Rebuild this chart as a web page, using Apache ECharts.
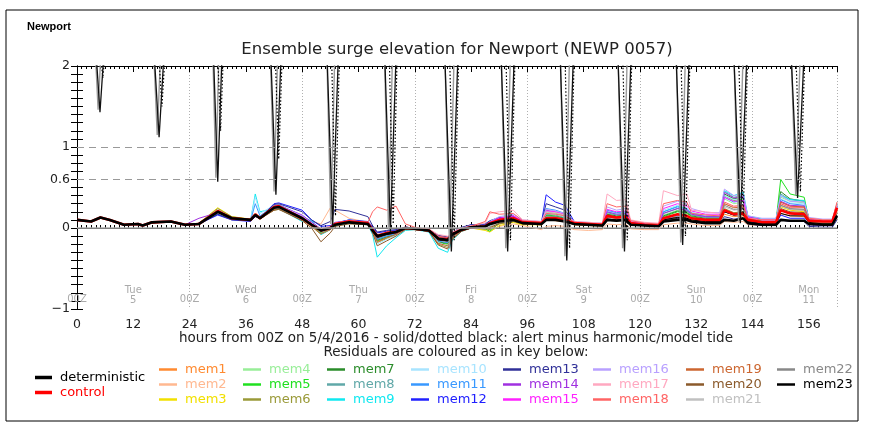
<!DOCTYPE html>
<html><head><meta charset="utf-8">
<script src="https://cdn.jsdelivr.net/npm/echarts/dist/echarts.min.js"></script>
<style>html,body{margin:0;padding:0;background:#fff}#c{width:873px;height:426px}</style>
</head><body><div id="c"></div>
<script>
// ---------- data ----------
const hours = [0,3,5,7,10,13,14,16,20,23,26,30,33,37,38,39,42,43,48,50,52,54,55,58,62,63,64,66,68,70,72,75,77,79,80,82,84,87,88,90,93,95,99,100,102,104,106,109,112,113,115,117,118,121,124,125,128,130,131,134,137,138,140,142,143,146,149,150,152,155,156,159,161,162];

const deterministic = [0.10,0.08,0.13,0.10,0.04,0.05,0.03,0.07,0.08,0.04,0.05,
 0.20,0.12,0.10,0.16,0.12,0.25,0.26,0.12,
 0.04,-0.03,0.00,0.04,0.07,0.05,-0.03,-0.10,-0.07,-0.05,0.00,-0.01,
 -0.03,-0.13,-0.15,-0.08,-0.02,0.01,
 0.02,0.05,0.08,0.10,0.06,0.05,0.10,0.10,0.08,0.05,0.04,
 0.03,0.10,0.09,0.10,0.04,0.03,0.02,
 0.08,0.10,0.10,0.08,0.06,0.06,
 0.10,0.09,0.12,0.06,0.04,0.04,
 0.10,0.09,0.09,0.05,0.04,0.04,0.15];
const control = [0.10,0.08,0.13,0.10,0.04,0.05,0.03,0.07,0.08,0.04,0.05,
 0.21,0.12,0.10,0.17,0.12,0.26,0.27,0.12,
 0.04,-0.03,0.00,0.05,0.08,0.06,-0.02,-0.10,-0.06,-0.05,0.00,-0.01,
 -0.03,-0.13,-0.14,-0.08,-0.02,0.01,
 0.02,0.06,0.10,0.12,0.07,0.06,0.12,0.12,0.10,0.06,0.05,
 0.04,0.15,0.13,0.14,0.06,0.04,0.03,
 0.12,0.17,0.15,0.12,0.10,0.10,
 0.22,0.17,0.18,0.10,0.07,0.07,
 0.22,0.18,0.17,0.09,0.08,0.08,0.25];

const mem1 = [0.10,0.08,0.12,0.10,0.04,0.05,0.03,0.06,0.08,0.04,0.05,
 0.19,0.11,0.09,0.15,0.11,0.23,0.24,0.11,
 0.03,-0.05,-0.01,0.04,0.07,0.05,-0.04,-0.14,-0.10,-0.07,-0.01,-0.01,
 -0.03,-0.16,-0.18,-0.10,-0.03,0.00,
 0.00,-0.02,0.05,0.08,0.05,0.04,0.10,0.09,0.08,0.04,0.04,
 0.03,0.12,0.10,0.11,0.04,0.03,0.02,
 0.09,0.12,0.11,0.09,0.07,0.07,
 0.17,0.14,0.15,0.08,0.05,0.05,
 0.18,0.15,0.14,0.07,0.06,0.06,0.20];
const mem2 = [0.10,0.09,0.12,0.10,0.05,0.05,0.04,0.07,0.08,0.05,0.05,
 0.18,0.12,0.10,0.14,0.12,0.22,0.24,0.14,
 0.08,0.05,0.25,0.22,0.12,0.07,0.00,-0.08,-0.05,-0.04,0.00,-0.01,
 -0.02,-0.10,-0.12,-0.07,-0.02,0.00,
 -0.02,-0.04,0.02,0.05,0.03,-0.02,0.02,0.03,0.02,-0.02,-0.03,
 -0.02,0.05,0.04,0.05,-0.01,-0.02,-0.02,
 0.04,0.06,0.06,0.05,0.03,0.03,
 0.08,0.07,0.08,0.04,0.03,0.03,
 0.10,0.09,0.09,0.04,0.03,0.03,0.12];
const mem3 = [0.10,0.08,0.13,0.10,0.04,0.05,0.03,0.07,0.08,0.04,0.06,
 0.25,0.14,0.11,0.16,0.12,0.25,0.26,0.13,
 0.05,-0.02,0.01,0.05,0.07,0.06,-0.03,-0.12,-0.08,-0.06,0.00,-0.01,
 -0.03,-0.14,-0.16,-0.09,-0.02,0.00,
 -0.03,-0.05,0.03,0.07,0.04,0.04,0.20,0.18,0.15,0.05,0.04,
 0.03,0.10,0.09,0.10,0.04,0.03,0.02,
 0.10,0.13,0.12,0.09,0.07,0.07,
 0.20,0.16,0.17,0.08,0.05,0.05,
 0.26,0.22,0.20,0.07,0.06,0.06,0.22];
const mem4 = [0.10,0.08,0.13,0.10,0.04,0.05,0.03,0.07,0.08,0.04,0.05,
 0.22,0.13,0.10,0.18,0.13,0.27,0.28,0.13,
 0.04,-0.04,0.00,0.05,0.09,0.07,-0.02,-0.14,-0.10,-0.07,0.00,-0.01,
 -0.03,-0.15,-0.17,-0.09,-0.02,0.01,
 0.01,0.03,0.10,0.14,0.08,0.07,0.18,0.17,0.14,0.07,0.06,
 0.05,0.18,0.16,0.17,0.07,0.05,0.04,
 0.16,0.22,0.20,0.16,0.13,0.13,
 0.36,0.30,0.32,0.14,0.10,0.10,
 0.38,0.33,0.31,0.12,0.10,0.10,0.28];
const mem5 = [0.10,0.08,0.13,0.10,0.04,0.05,0.03,0.07,0.08,0.04,0.05,
 0.21,0.12,0.10,0.17,0.12,0.24,0.25,0.11,
 0.03,-0.06,-0.01,0.05,0.08,0.06,-0.03,-0.16,-0.12,-0.08,-0.01,-0.01,
 -0.03,-0.18,-0.20,-0.11,-0.03,0.00,
 -0.01,-0.04,0.06,0.10,0.07,0.06,0.16,0.15,0.12,0.06,0.05,
 0.04,0.16,0.14,0.15,0.06,0.04,0.03,
 0.14,0.20,0.18,0.14,0.11,0.11,
 0.40,0.34,0.36,0.12,0.08,0.08,
 0.60,0.42,0.38,0.11,0.09,0.09,0.30];
const mem6 = [0.10,0.08,0.13,0.10,0.04,0.05,0.03,0.07,0.08,0.04,0.06,
 0.24,0.14,0.10,0.15,0.12,0.22,0.23,0.11,
 0.02,-0.08,-0.02,0.03,0.06,0.05,-0.05,-0.18,-0.13,-0.09,-0.01,-0.02,
 -0.04,-0.20,-0.24,-0.13,-0.04,0.00,
 -0.01,-0.02,0.05,0.08,0.05,0.04,0.11,0.11,0.09,0.04,0.03,
 0.03,0.11,0.10,0.11,0.04,0.03,0.02,
 0.10,0.14,0.13,0.10,0.08,0.08,
 0.24,0.19,0.20,0.09,0.06,0.06,
 0.28,0.23,0.22,0.08,0.06,0.06,0.20];
const mem7 = [0.10,0.08,0.13,0.10,0.04,0.05,0.03,0.07,0.08,0.04,0.05,
 0.20,0.12,0.10,0.16,0.12,0.25,0.26,0.12,
 0.03,-0.05,-0.01,0.04,0.08,0.06,-0.03,-0.15,-0.11,-0.08,-0.01,-0.01,
 -0.03,-0.17,-0.19,-0.10,-0.03,0.00,
 0.00,0.02,0.08,0.11,0.07,0.06,0.15,0.14,0.12,0.06,0.05,
 0.04,0.17,0.15,0.16,0.06,0.04,0.03,
 0.15,0.21,0.19,0.15,0.12,0.12,
 0.42,0.36,0.38,0.13,0.09,0.09,
 0.45,0.36,0.33,0.11,0.09,0.09,0.27];
const mem8 = [0.10,0.08,0.13,0.10,0.04,0.05,0.03,0.07,0.08,0.04,0.05,
 0.19,0.12,0.10,0.17,0.12,0.26,0.27,0.12,
 0.04,-0.04,0.00,0.05,0.08,0.06,-0.03,-0.13,-0.09,-0.07,0.00,-0.01,
 -0.03,-0.16,-0.18,-0.10,-0.03,0.01,
 0.01,0.04,0.09,0.12,0.07,0.06,0.17,0.16,0.13,0.06,0.05,
 0.04,0.19,0.16,0.17,0.06,0.04,0.03,
 0.18,0.24,0.21,0.16,0.13,0.13,
 0.45,0.38,0.40,0.14,0.10,0.10,
 0.42,0.35,0.33,0.12,0.09,0.09,0.28];
const mem9 = [0.10,0.08,0.13,0.10,0.04,0.05,0.03,0.07,0.08,0.04,0.05,
 0.17,0.11,0.10,0.42,0.20,0.24,0.24,0.08,
 0.10,-0.08,-0.02,0.03,0.06,0.04,-0.08,-0.36,-0.22,-0.12,-0.03,-0.02,
 -0.05,-0.25,-0.30,-0.15,-0.04,0.00,
 0.00,0.03,0.10,0.14,0.09,0.07,0.20,0.19,0.16,0.07,0.06,
 0.05,0.20,0.18,0.19,0.07,0.05,0.04,
 0.20,0.27,0.24,0.19,0.15,0.15,
 0.46,0.40,0.44,0.15,0.11,0.11,
 0.40,0.35,0.34,0.12,0.10,0.10,0.30];
const mem10 = [0.10,0.08,0.13,0.10,0.04,0.05,0.03,0.07,0.08,0.04,0.05,
 0.18,0.11,0.10,0.38,0.18,0.28,0.28,0.10,
 0.06,-0.05,-0.01,0.04,0.07,0.05,-0.04,-0.20,-0.14,-0.09,-0.01,-0.01,
 -0.03,-0.18,-0.22,-0.12,-0.03,0.00,
 0.00,0.03,0.09,0.12,0.08,0.06,0.18,0.17,0.14,0.06,0.05,
 0.04,0.21,0.18,0.19,0.07,0.05,0.04,
 0.22,0.28,0.25,0.19,0.15,0.15,
 0.40,0.35,0.37,0.13,0.10,0.10,
 0.36,0.31,0.30,0.11,0.09,0.09,0.26];
const mem11 = [0.10,0.08,0.13,0.10,0.04,0.05,0.03,0.07,0.08,0.04,0.05,
 0.17,0.11,0.09,0.30,0.15,0.27,0.29,0.15,
 0.08,-0.02,0.01,0.06,0.10,0.07,-0.02,-0.14,-0.10,-0.07,0.00,-0.01,
 -0.03,-0.16,-0.18,-0.10,-0.02,0.01,
 0.01,0.04,0.11,0.14,0.09,0.07,0.24,0.22,0.18,0.07,0.06,
 0.05,0.22,0.19,0.20,0.07,0.05,0.04,
 0.20,0.26,0.23,0.18,0.14,0.14,
 0.38,0.32,0.34,0.13,0.10,0.10,
 0.35,0.30,0.28,0.11,0.09,0.09,0.27];
const mem12 = [0.10,0.08,0.13,0.10,0.04,0.05,0.03,0.07,0.08,0.04,0.05,
 0.16,0.10,0.08,0.14,0.12,0.30,0.31,0.22,
 0.10,0.02,0.03,0.06,0.10,0.08,0.02,-0.06,-0.04,-0.03,0.01,0.00,
 -0.02,-0.10,-0.12,-0.06,0.00,0.04,
 0.04,0.08,0.12,0.15,0.08,0.07,0.41,0.32,0.28,0.08,0.06,
 0.05,0.14,0.12,0.13,0.05,0.04,0.03,
 0.11,0.15,0.14,0.11,0.09,0.09,
 0.20,0.16,0.17,0.08,0.05,0.05,
 0.16,0.12,0.12,0.04,0.03,0.03,0.14];
const mem13 = [0.10,0.08,0.13,0.10,0.04,0.05,0.03,0.07,0.08,0.04,0.05,
 0.17,0.10,0.09,0.15,0.13,0.29,0.30,0.20,
 0.10,0.03,0.08,0.23,0.21,0.14,0.03,-0.05,-0.03,-0.02,0.01,0.00,
 -0.02,-0.09,-0.11,-0.05,0.01,0.04,
 0.05,0.09,0.13,0.14,0.08,0.07,0.30,0.26,0.22,0.07,0.06,
 0.04,0.12,0.11,0.12,0.04,0.03,0.02,
 0.08,0.12,0.11,0.08,0.06,0.06,
 0.14,0.11,0.12,0.05,0.03,0.03,
 0.10,0.08,0.08,0.02,0.01,0.01,0.10];
const mem14 = [0.10,0.08,0.13,0.10,0.04,0.05,0.03,0.07,0.08,0.04,0.12,
 0.19,0.12,0.10,0.16,0.12,0.27,0.28,0.16,
 0.07,-0.01,0.02,0.07,0.09,0.07,-0.01,-0.10,-0.07,-0.05,0.00,-0.01,
 -0.02,-0.13,-0.15,-0.08,-0.01,0.02,
 0.02,0.06,0.12,0.14,0.08,0.07,0.22,0.20,0.17,0.07,0.06,
 0.05,0.20,0.17,0.18,0.07,0.05,0.04,
 0.18,0.24,0.22,0.17,0.14,0.14,
 0.44,0.37,0.39,0.14,0.10,0.10,
 0.33,0.28,0.27,0.11,0.09,0.09,0.25];
const mem15 = [0.10,0.08,0.13,0.10,0.04,0.05,0.03,0.07,0.08,0.04,0.06,
 0.20,0.12,0.10,0.16,0.12,0.26,0.27,0.14,
 0.06,-0.02,0.01,0.06,0.09,0.07,-0.02,-0.12,-0.08,-0.06,0.00,-0.01,
 -0.03,-0.14,-0.16,-0.09,-0.02,0.01,
 0.02,0.07,0.12,0.15,0.09,0.07,0.21,0.20,0.17,0.07,0.06,
 0.05,0.23,0.20,0.21,0.08,0.05,0.04,
 0.24,0.30,0.27,0.21,0.17,0.17,
 0.38,0.33,0.34,0.13,0.10,0.10,
 0.32,0.27,0.26,0.11,0.09,0.09,0.28];
const mem16 = [0.10,0.08,0.13,0.10,0.04,0.05,0.03,0.07,0.08,0.04,0.05,
 0.20,0.12,0.10,0.17,0.12,0.27,0.28,0.15,
 0.06,-0.02,0.01,0.06,0.09,0.07,-0.02,-0.11,-0.07,-0.05,0.00,-0.01,
 -0.03,-0.14,-0.15,-0.08,-0.02,0.01,
 0.02,0.08,0.14,0.17,0.10,0.08,0.23,0.21,0.18,0.08,0.07,
 0.06,0.26,0.22,0.24,0.09,0.06,0.05,
 0.27,0.33,0.30,0.24,0.19,0.19,
 0.48,0.40,0.42,0.15,0.12,0.12,
 0.40,0.33,0.32,0.13,0.11,0.11,0.30];
const mem17 = [0.10,0.08,0.13,0.10,0.04,0.05,0.03,0.07,0.08,0.04,0.05,
 0.19,0.12,0.10,0.16,0.12,0.25,0.26,0.13,
 0.05,-0.01,0.02,0.06,0.09,0.07,-0.01,-0.09,-0.05,-0.04,0.00,-0.01,
 -0.01,-0.08,-0.10,-0.05,0.00,0.03,
 0.06,0.18,0.20,0.22,0.10,0.08,0.20,0.19,0.16,0.08,0.07,
 0.06,0.42,0.34,0.35,0.10,0.07,0.06,
 0.46,0.40,0.42,0.22,0.20,0.18,
 0.30,0.26,0.27,0.12,0.10,0.10,
 0.30,0.26,0.25,0.12,0.10,0.10,0.30];
const mem18 = [0.10,0.08,0.13,0.10,0.04,0.05,0.03,0.07,0.08,0.04,0.05,
 0.20,0.12,0.10,0.16,0.12,0.26,0.27,0.13,
 0.05,-0.02,0.01,0.06,0.09,0.07,0.20,0.26,0.22,0.27,0.05,0.01,
 -0.02,-0.10,-0.12,-0.06,-0.01,0.02,
 0.08,0.20,0.17,0.18,0.09,0.07,0.18,0.17,0.15,0.07,0.06,
 0.05,0.30,0.26,0.27,0.09,0.06,0.05,
 0.30,0.34,0.32,0.18,0.16,0.15,
 0.32,0.27,0.28,0.12,0.10,0.10,
 0.30,0.25,0.25,0.12,0.10,0.10,0.32];
const mem19 = [0.10,0.08,0.13,0.10,0.04,0.05,0.03,0.07,0.08,0.04,0.05,
 0.21,0.12,0.10,0.15,0.11,0.23,0.24,0.10,
 0.02,-0.07,-0.02,0.04,0.07,0.05,-0.04,-0.17,-0.12,-0.08,-0.01,-0.02,
 -0.04,-0.19,-0.22,-0.12,-0.03,0.00,
 0.00,0.01,0.07,0.10,0.06,0.05,0.13,0.13,0.11,0.05,0.04,
 0.03,0.13,0.11,0.12,0.05,0.03,0.02,
 0.12,0.16,0.15,0.12,0.09,0.09,
 0.30,0.25,0.26,0.11,0.08,0.08,
 0.32,0.27,0.26,0.10,0.08,0.08,0.24];
const mem20 = [0.10,0.08,0.13,0.10,0.04,0.05,0.03,0.07,0.08,0.04,0.05,
 0.20,0.12,0.10,0.15,0.11,0.22,0.23,0.09,
 0.00,-0.17,-0.06,0.02,0.05,0.04,-0.06,-0.22,-0.16,-0.10,-0.02,-0.02,
 -0.04,-0.21,-0.26,-0.14,-0.04,0.00,
 -0.01,0.00,0.06,0.09,0.05,0.04,0.11,0.11,0.09,0.04,0.03,
 0.02,0.11,0.10,0.10,0.04,0.03,0.02,
 0.10,0.13,0.12,0.10,0.08,0.08,
 0.22,0.18,0.19,0.09,0.07,0.07,
 0.24,0.20,0.19,0.08,0.06,0.06,0.18];
const mem21 = [0.10,0.08,0.13,0.10,0.04,0.05,0.03,0.07,0.08,0.04,0.05,
 0.19,0.12,0.10,0.16,0.12,0.24,0.25,0.11,
 0.03,-0.04,0.00,0.05,0.07,0.05,-0.03,-0.12,-0.08,-0.06,0.00,-0.01,
 -0.03,-0.15,-0.17,-0.09,-0.02,0.01,
 0.00,0.02,0.07,0.09,0.06,0.05,0.12,0.12,0.10,0.05,0.04,
 0.03,0.12,0.11,0.12,0.05,0.03,0.02,
 0.12,0.15,0.14,0.11,0.09,0.09,
 0.26,0.22,0.23,0.10,0.07,0.07,
 0.27,0.23,0.22,0.09,0.07,0.07,0.20];
const mem22 = [0.10,0.08,0.13,0.10,0.04,0.05,0.03,0.07,0.08,0.04,0.05,
 0.21,0.12,0.10,0.17,0.12,0.26,0.27,0.12,
 0.04,-0.03,0.00,0.05,0.08,0.06,-0.02,-0.11,-0.07,-0.05,0.00,-0.01,
 -0.03,-0.14,-0.15,-0.08,-0.02,0.01,
 0.01,0.05,0.09,0.11,0.07,0.06,0.14,0.14,0.11,0.06,0.05,
 0.04,0.14,0.12,0.13,0.05,0.04,0.03,
 0.13,0.17,0.16,0.12,0.10,0.10,
 0.28,0.23,0.24,0.11,0.08,0.08,
 0.28,0.24,0.23,0.10,0.08,0.08,0.22];
const mem23 = [0.10,0.08,0.13,0.10,0.04,0.05,0.03,0.07,0.08,0.04,0.05,
 0.20,0.12,0.10,0.16,0.12,0.25,0.26,0.12,
 0.04,-0.04,0.00,0.04,0.07,0.05,-0.03,-0.12,-0.08,-0.06,0.00,-0.01,
 -0.03,-0.15,-0.16,-0.09,-0.02,0.01,
 0.01,0.04,0.08,0.10,0.06,0.05,0.11,0.11,0.09,0.05,0.04,
 0.03,0.11,0.10,0.11,0.04,0.03,0.02,
 0.10,0.13,0.12,0.10,0.08,0.08,
 0.20,0.16,0.17,0.08,0.06,0.06,
 0.18,0.15,0.15,0.07,0.05,0.05,0.16];

const memberNames = ['mem1','mem2','mem3','mem4','mem5','mem6','mem7','mem8','mem9','mem10','mem11','mem12','mem13','mem14','mem15','mem16','mem17','mem18','mem19','mem20','mem21','mem22','mem23'];
const memberValues = [mem1,mem2,mem3,mem4,mem5,mem6,mem7,mem8,mem9,mem10,mem11,mem12,mem13,mem14,mem15,mem16,mem17,mem18,mem19,mem20,mem21,mem22,mem23];

// alert minus harmonic / model tide (values above 2 run off the top of the plot)
const spikeTime      = [4.9, 17.5, 30.0, 42.4, 54.5, 66.8, 79.8, 91.8, 104.4, 116.7, 129.1, 141.4, 153.6];
const spikeHalfWidth = [1.0, 1.2, 1.0, 1.2, 1.3, 1.3, 1.5, 1.5, 1.5, 1.5, 1.5, 1.5, 1.5];
const spikeSolidMin  = [1.43, 1.12, 0.57, 0.41, 0.02, -0.05, -0.29, -0.29, -0.40, -0.29, -0.21, 0.06, 0.37];
const spikeGreyTime  = [4.5, 17.1, 29.6, 42.0, 54.1, 66.4, 79.4, 91.4, 104.0, 116.3, 128.7, 141.0, 153.2];
const spikeGreyMin   = [1.46, 1.15, 0.62, 0.45, 0.05, -0.02, -0.25, -0.25, -0.35, -0.25, -0.18, 0.08, 0.40];
const spikeDotTime   = [5.5, 18.1, 30.6, 43.0, 55.1, 67.4, 80.4, 92.4, 105.0, 117.3, 129.7, 142.0, 154.2];
const spikeDotMin    = [1.85, 1.50, 1.20, 0.85, 0.15, 0.05, -0.15, -0.15, -0.25, -0.15, -0.10, 0.15, 0.45];
const offChartLevel = 2.3;

const xTicks = [0,12,24,36,48,60,72,84,96,108,120,132,144,156];
const dayLabels = ['Tue\n5','Wed\n6','Thu\n7','Fri\n8','Sat\n9','Sun\n10','Mon\n11'];
const yTickLabels = [2, 1, 0.6, 0, -1];
const refLevels = [1, 0.6];

// ---------- styles ----------
const memberColors = ['#ff8a30','#ffb890','#f2e000','#98ee98','#20e020','#9a9a38','#2a8c2a','#60a8a8','#10e8f0','#a8e4ff','#3898ff','#2020ff','#303098','#a030e0','#ff20ff','#b8a0ff','#ffa8c0','#ff6464','#cc6630','#8b5a2b','#c0c0c0','#888888','#000000'];
const FONT = 'DejaVu Sans';

// ---------- build ----------
function zip(v){ return hours.map((h,i)=>[h, v[i]]); }
function spikes(times, mins, widths){
  const out = [];
  times.forEach((t,i)=>{ out.push([t-widths[i], offChartLevel],[t, mins[i]],[t+widths[i], offChartLevel]); });
  return out;
}
const narrow = spikeHalfWidth.map(w=>w*0.7);

const series = [];
series.push({type:'line', name:'refs', data:[], silent:true, z:1,
  markLine:{silent:true, symbol:'none', label:{show:false}, animation:false,
    data:[...refLevels.map(v=>({yAxis:v, lineStyle:{type:[7,5], color:'#999', width:1}})),
          {yAxis:0, lineStyle:{type:'solid', color:'#aaa', width:1.5}}]}});
memberNames.forEach((n,i)=>series.push({type:'line', name:n, data:zip(memberValues[i]), showSymbol:false, symbol:'none', lineStyle:{width:1, color:memberColors[i]}, itemStyle:{color:memberColors[i]}, z:2}));
series.push({type:'line', name:'control', data:zip(control), showSymbol:false, symbol:'none', lineStyle:{width:2.6, color:'#ff0000'}, itemStyle:{color:'#ff0000'}, z:3});
series.push({type:'line', name:'deterministic', data:zip(deterministic), showSymbol:false, symbol:'none', lineStyle:{width:2.6, color:'#000'}, itemStyle:{color:'#000'}, z:3});
series.push({type:'line', name:'alertGrey', data:spikes(spikeGreyTime, spikeGreyMin, narrow), showSymbol:false, symbol:'none', lineStyle:{width:1.4, color:'#9a9a9a'}, z:4});
series.push({type:'line', name:'alertDotted', data:spikes(spikeDotTime, spikeDotMin, narrow), showSymbol:false, symbol:'none', lineStyle:{width:1.2, color:'#000', type:[1.5,2]}, z:4});
series.push({type:'line', name:'alertSolid', data:spikes(spikeTime, spikeSolidMin, spikeHalfWidth), showSymbol:false, symbol:'none', lineStyle:{width:1.3, color:'#111'}, z:4});

const colorOf = n => n==='deterministic' ? '#000' : n==='control' ? '#ff0000' : memberColors[memberNames.indexOf(n)];
const legendCols = [['deterministic','control'],['mem1','mem2','mem3'],['mem4','mem5','mem6'],['mem7','mem8','mem9'],['mem10','mem11','mem12'],['mem13','mem14','mem15'],['mem16','mem17','mem18'],['mem19','mem20','mem21'],['mem22','mem23']];
const legendLeft = [35,159,243,327,411,503,593,686,777];
const legendTop  = [371,363,363,363,363,363,363,363,363];
const legends = legendCols.map((names,k)=>({
  left:legendLeft[k], top:legendTop[k], orient:'vertical', padding:0, itemGap:2,
  itemWidth: k===0?17:18, itemHeight: k===0?3.5:2.5, icon:'rect', selectedMode:false,
  textStyle:{fontFamily:FONT, fontSize:13, padding:[0,0,0,3]},
  data:names.map(n=>({name:n, icon:'rect', textStyle:{color:colorOf(n)}}))
}));

const base = {min:0, max:162, type:'value', gridIndex:0};
const noLabel = {show:false};
const xAxis = [
  Object.assign({}, base, {position:'bottom', interval:12,
    axisLine:{lineStyle:{color:'#000', width:1}}, axisTick:{inside:true, length:6, lineStyle:{color:'#000'}},
    axisLabel:{fontFamily:FONT, fontSize:12.5, color:'#222', margin:9, showMaxLabel:false,
      formatter:v=> xTicks.includes(v) ? String(v) : ''}, splitLine:{show:false}}),
  Object.assign({}, base, {position:'bottom', interval:1, axisLine:{show:false},
    axisTick:{inside:true, length:3, lineStyle:{color:'#000'}}, axisLabel:noLabel, splitLine:{show:false}}),
  Object.assign({}, base, {position:'top', interval:12,
    axisLine:{lineStyle:{color:'#000', width:1}}, axisTick:{inside:true, length:6, lineStyle:{color:'#000'}},
    axisLabel:noLabel, splitLine:{show:false}}),
  Object.assign({}, base, {position:'top', interval:1, axisLine:{show:false},
    axisTick:{inside:true, length:3, lineStyle:{color:'#000'}}, axisLabel:noLabel, splitLine:{show:false}}),
  Object.assign({}, base, {position:'bottom', interval:24, axisLine:{show:false}, axisTick:{show:false},
    splitLine:{show:true, lineStyle:{type:[1,2], color:'#b0b0b0', width:1}},
    axisLabel:{inside:true, margin:5, fontFamily:FONT, fontSize:10, color:'#aaa', showMaxLabel:false,
      formatter:v=> (v%24===0 && v<162) ? '00Z' : ''}}),
  Object.assign({}, base, {position:'bottom', interval:12, axisLine:{show:false}, axisTick:{show:false}, splitLine:{show:false},
    axisLabel:{inside:true, margin:3, fontFamily:FONT, fontSize:10, lineHeight:10.5, color:'#aaa', showMaxLabel:false,
      formatter:v=> (v%24===12) ? dayLabels[(v-12)/24] : ''}})
];
const yBase = {type:'value', min:-1, max:2, interval:0.1, gridIndex:0, splitLine:{show:false}};
const yAxis = [
  Object.assign({}, yBase, {position:'left', axisLine:{show:true, lineStyle:{color:'#000'}},
    axisTick:{show:true, inside:true, length:6, lineStyle:{color:'#000'}},
    axisLabel:{fontFamily:FONT, fontSize:12.5, color:'#222', margin:7, showMinLabel:true, showMaxLabel:true,
      formatter:v=>{ const r=Math.round(v*10)/10; const hit=yTickLabels.find(t=>Math.abs(t-r)<1e-6); return hit===undefined ? '' : (hit<0 ? '\u2212'+Math.abs(hit) : String(hit)); }}}),
  Object.assign({}, yBase, {position:'right', axisLine:{show:true, lineStyle:{color:'#000'}},
    axisTick:{show:true, inside:true, length:6, lineStyle:{color:'#000'}}, axisLabel:noLabel})
];

const graphics = [
  {type:'rect', shape:{x:6, y:10, width:852, height:411}, style:{fill:null, stroke:'#000', lineWidth:1}, silent:true},
  {type:'text', x:27, y:27, style:{text:'Newport', font:'bold 11px "Liberation Sans", Arial, sans-serif', fill:'#000', textVerticalAlign:'middle'}},
  {type:'text', x:457, y:50, style:{text:'Ensemble surge elevation for Newport (NEWP 0057)', font:'16.5px "DejaVu Sans"', fill:'#222', textAlign:'center', textVerticalAlign:'middle'}},
  {type:'text', x:456, y:338, style:{text:'hours from 00Z on 5/4/2016 - solid/dotted black: alert minus harmonic/model tide', font:'13.5px "DejaVu Sans"', fill:'#222', textAlign:'center', textVerticalAlign:'middle'}},
  {type:'text', x:456, y:352, style:{text:'Residuals are coloured as in key below:', font:'13.5px "DejaVu Sans"', fill:'#222', textAlign:'center', textVerticalAlign:'middle'}}
];
const lens = [control, deterministic, ...memberValues].map(a=>a.length);
if (lens.some(l=>l!==hours.length)) graphics.push({type:'text', x:100, y:100, style:{text:'LEN ERR '+lens.join(','), fill:'red', font:'12px sans-serif'}});

const chart = echarts.init(document.getElementById('c'), null, {renderer:'canvas'});
chart.setOption({
  animation:false,
  backgroundColor:'#fff',
  grid:{left:77, right:36, top:66, bottom:117, containLabel:false},
  xAxis, yAxis, series, legend:legends, graphic:graphics
});
</script></body></html>
